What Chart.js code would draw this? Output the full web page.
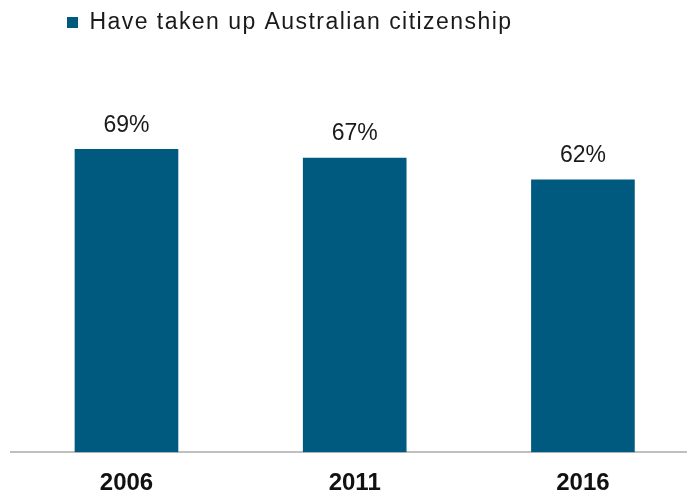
<!DOCTYPE html>
<html>
<head>
<meta charset="utf-8">
<script src="https://cdn.jsdelivr.net/npm/chart.js@4"></script>
<style>
  html, body { margin: 0; padding: 0; background: #ffffff; }
  #wrap { width: 687px; height: 493px; }
</style>
</head>
<body>
<div id="wrap"><canvas id="c" width="687" height="493"></canvas></div>
<script>
const years = ['2006', '2011', '2016'];
const citizenshipPct = [69, 67, 62];
const seriesLabel = 'Have taken up Australian citizenship';

const BAR_COLOR = '#005A80';
const FONT = '"Liberation Sans", Arial, sans-serif';

const valueLabels = {
  id: 'valueLabels',
  afterDatasetsDraw(chart) {
    const ctx = chart.ctx;
    const meta = chart.getDatasetMeta(0);
    ctx.save();
    ctx.font = '23px ' + FONT;
    ctx.fillStyle = '#1a1a1a';
    ctx.textAlign = 'center';
    ctx.textBaseline = 'alphabetic';
    meta.data.forEach((bar, i) => {
      ctx.fillText(citizenshipPct[i] + '%', bar.x, bar.y - 17.5);
    });
    ctx.restore();
  }
};

const legendTweak = {
  id: 'legendTweak',
  afterInit(chart) {
    const lg = chart.legend;
    if (!lg) return;
    const orig = lg.draw.bind(lg);
    lg.draw = function (...args) {
      const ctx = chart.ctx;
      ctx.save();
      ctx.translate(46, -13);
      try { ctx.letterSpacing = '1.45px'; } catch (e) {}
      orig(...args);
      ctx.restore();
    };
  }
};

new Chart(document.getElementById('c'), {
  type: 'bar',
  data: {
    datasets: [{
      label: seriesLabel,
      data: years.map((y, i) => ({ x: i, y: citizenshipPct[i] })),
      backgroundColor: BAR_COLOR,
      borderWidth: 0,
      barThickness: 103
    }]
  },
  options: {
    responsive: false,
    animation: false,
    devicePixelRatio: 1,
    layout: { padding: { left: 11, right: 0, top: 14, bottom: -22 } },
    plugins: {
      legend: {
        display: true,
        position: 'top',
        align: 'start',
        labels: {
          boxWidth: 11,
          boxHeight: 11,
          color: '#1a1a1a',
          font: { family: FONT, size: 23 }
        }
      },
      tooltip: { enabled: false }
    },
    scales: {
      x: {
        type: 'linear',
        offset: false,
        min: -0.506,
        max: 2.456,
        grid: { display: false, drawTicks: false },
        border: { display: true, color: '#BFBFBF', width: 2 },
        ticks: {
          stepSize: 1,
          includeBounds: false,
          autoSkip: false,
          maxRotation: 0,
          padding: 17,
          color: '#111111',
          font: { family: FONT, size: 24, weight: 'bold' },
          callback: (v) => (Number.isInteger(v) && years[v] !== undefined) ? years[v] : ''
        }
      },
      y: {
        display: false,
        min: 0,
        max: 90
      }
    }
  },
  plugins: [valueLabels, legendTweak]
});
</script>
</body>
</html>
